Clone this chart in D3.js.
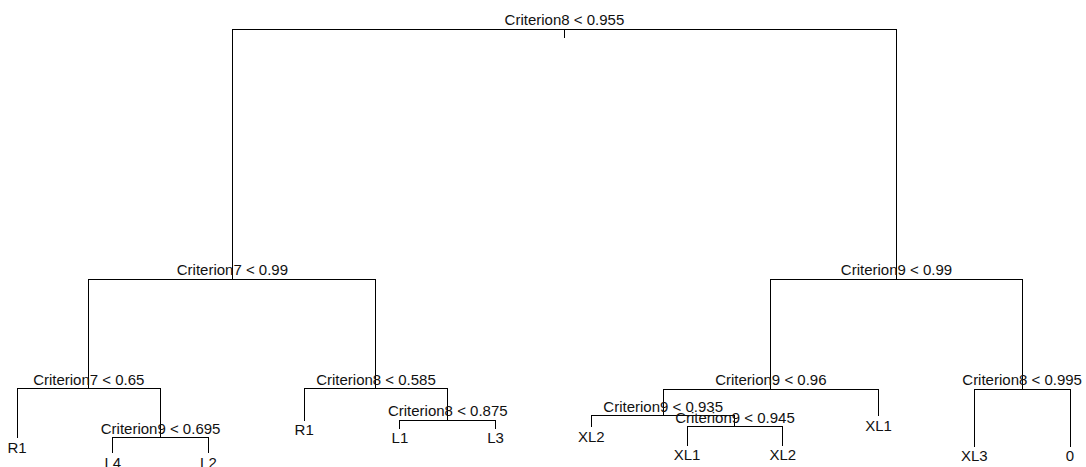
<!DOCTYPE html>
<html>
<head>
<meta charset="utf-8">
<script src="https://cdn.jsdelivr.net/npm/d3@7"></script>
<style>
  html, body { margin: 0; padding: 0; background: #fff; overflow: hidden; }
  svg { display: block; }
  text { font-family: "Liberation Sans", Arial, Helvetica, sans-serif; font-size: 15px; fill: #111; }
</style>
</head>
<body>
<svg id="chart" width="1086" height="467"></svg>
<script>
// Classification tree: nodes numbered as in R (children of n are 2n and 2n+1)
const nodeIds    = [1, 2, 3, 4, 5, 6, 7, 8, 9, 10, 11, 12, 13, 14, 15, 18, 19, 22, 23, 24, 25, 50, 51];
// split variable (null for terminal nodes)
const splitVars  = ["Criterion8", "Criterion7", "Criterion9", "Criterion7", "Criterion8", "Criterion9", "Criterion8",
                    null, "Criterion9", null, "Criterion8", "Criterion9", null, null, null,
                    null, null, null, null, null, "Criterion9", null, null];
// split threshold (null for terminal nodes)
const splitCuts  = [0.955, 0.99, 0.99, 0.65, 0.585, 0.96, 0.995,
                    null, 0.695, null, 0.875, 0.935, null, null, null,
                    null, null, null, null, null, 0.945, null, null];
// predicted class at terminal nodes
const leafClass  = [null, null, null, null, null, null, null,
                    "R1", null, "R1", null, null, "XL1", "XL3", "0",
                    "L4", "L2", "L1", "L3", "XL2", null, "XL1", "XL2"];
// plotted node height (deviance units)
const nodeHeight = [190, 90, 90, 46.2, 46.2, 46, 46,
                    26.6, 26.6, 33.6, 33.6, 35.4, 35.4, 23.2, 23.2,
                    20.6, 20.6, 30.4, 30.4, 31.0, 31.0, 23.6, 23.6];

const svg = d3.select("#chart");

// Build node table
const nodes = new Map();
nodeIds.forEach((id, i) => nodes.set(id, {
  id, var: splitVars[i], cut: splitCuts[i], cls: leafClass[i], h: nodeHeight[i]
}));
const isLeaf = n => !nodes.has(n.id * 2);

// Leaves are spaced evenly left to right; internal nodes sit midway over their children
let leafIndex = 0;
function assignX(id) {
  const n = nodes.get(id);
  if (isLeaf(n)) { n.pos = ++leafIndex; return n.pos; }
  n.pos = (assignX(id * 2) + assignX(id * 2 + 1)) / 2;
  return n.pos;
}
assignX(1);

const x = d3.scaleLinear().domain([1, leafIndex]).range([17, 1070]);
const y = d3.scaleLinear().domain([0, 190]).range([504, 29]);

const g = svg.append("g");
const lineColor = "#000";

// Branches: vertical from each node up to its parent, horizontal joining siblings
const segs = [];
nodes.forEach(n => {
  if (n.id > 1) {
    const p = nodes.get(Math.floor(n.id / 2));
    segs.push([x(n.pos), y(n.h), x(n.pos), y(p.h)]);
  }
  if (!isLeaf(n)) {
    const l = nodes.get(n.id * 2), r = nodes.get(n.id * 2 + 1);
    segs.push([x(l.pos), y(n.h), x(r.pos), y(n.h)]);
  }
});
// short stem below the root
const root = nodes.get(1);
segs.push([x(root.pos), y(root.h), x(root.pos), y(root.h) + 8]);

g.selectAll("line.branch")
  .data(segs)
  .join("line")
  .attr("class", "branch")
  .attr("x1", d => d[0]).attr("y1", d => d[1])
  .attr("x2", d => d[2]).attr("y2", d => d[3])
  .attr("stroke", lineColor)
  .attr("stroke-width", 1)
  .attr("stroke-linecap", "square")
  .attr("shape-rendering", "crispEdges");

const all = Array.from(nodes.values());

// Split labels just above the split line
g.selectAll("text.split")
  .data(all.filter(n => !isLeaf(n)))
  .join("text")
  .attr("class", "split")
  .attr("x", n => x(n.pos))
  .attr("y", n => y(n.h) - 4)
  .attr("text-anchor", "middle")
  .text(n => `${n.var} < ${n.cut}`);

// Class labels under the terminal nodes
g.selectAll("text.leaf")
  .data(all.filter(isLeaf))
  .join("text")
  .attr("class", "leaf")
  .attr("x", n => x(n.pos))
  .attr("y", n => y(n.h) + 15)
  .attr("text-anchor", "middle")
  .text(n => n.cls);
</script>
</body>
</html>
